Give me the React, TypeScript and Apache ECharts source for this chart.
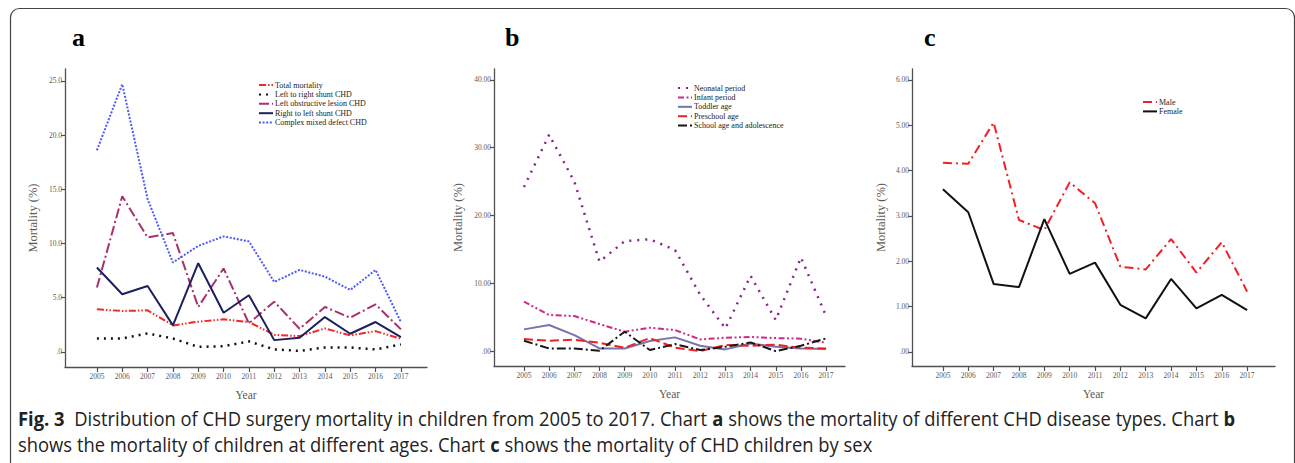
import React, { useEffect, useRef } from "react";
import * as echarts from "echarts";

const years = [2005, 2006, 2007, 2008, 2009, 2010, 2011, 2012, 2013, 2014, 2015, 2016, 2017];

// Panel a: CHD disease types
const totalMortality = [3.92, 3.77, 3.83, 2.44, 2.78, 3.0, 2.75, 1.57, 1.45, 2.16, 1.51, 1.91, 1.2];
const leftToRightShunt = [1.23, 1.23, 1.7, 1.23, 0.46, 0.52, 0.96, 0.22, 0.09, 0.4, 0.4, 0.22, 0.68];
const leftObstructive = [5.93, 14.35, 10.56, 10.96, 4.14, 7.69, 2.62, 4.63, 2.13, 4.14, 3.15, 4.38, 2.07];
const rightToLeftShunt = [7.78, 5.31, 6.08, 2.44, 8.18, 3.61, 5.22, 1.08, 1.3, 3.21, 1.67, 2.75, 1.36];
const complexMixed = [18.6, 24.7, 14.1, 8.24, 9.78, 10.65, 10.19, 6.45, 7.56, 6.94, 5.71, 7.56, 2.75];

// Panel b: ages
const neonatal = [24.2, 31.9, 25.0, 13.2, 16.2, 16.5, 14.9, 8.3, 3.35, 11.1, 4.58, 13.8, 5.17];
const infant = [7.29, 5.32, 5.17, 3.99, 2.86, 3.45, 3.1, 1.72, 1.97, 2.07, 1.92, 1.82, 1.23];
const toddler = [3.2, 3.84, 2.36, 0.39, 0.39, 1.48, 2.02, 0.79, 0.25, 1.13, 0.64, 0.39, 0.3];
const preschool = [1.77, 1.53, 1.67, 1.23, 0.49, 1.92, 0.49, 0.0, 0.89, 0.79, 0.94, 0.49, 0.39];
const schoolAge = [1.53, 0.39, 0.39, 0.05, 2.86, 0.15, 1.03, 0.15, 0.64, 1.28, 0.0, 0.79, 1.87];

// Panel c: sex
const male = [4.17, 4.15, 5.06, 2.91, 2.69, 3.74, 3.28, 1.88, 1.82, 2.49, 1.75, 2.42, 1.33];
const female = [3.59, 3.08, 1.5, 1.43, 2.93, 1.72, 1.97, 1.04, 0.74, 1.61, 0.96, 1.26, 0.92];

const ticksA = [0, 5, 10, 15, 20, 25];
const ticksB = [0, 10, 20, 30, 40];
const ticksC = [0, 1, 2, 3, 4, 5, 6];

const namesA = ["Total mortality", "Left to right shunt CHD", "Left obstructive lesion CHD", "Right to left shunt CHD", "Complex mixed defect CHD"];
const namesB = ["Neonatal period", "Infant period", "Toddler age", "Preschool age", "School age and adolescence"];
const namesC = ["Male", "Female"];

const serif = "'Liberation Serif', 'DejaVu Serif', serif";
const gray = "#5a5a5a";
const axisColor = "#505050";

function pts(arr: number[]) {
  return years.map((y, i) => [y, arr[i]]);
}

function xAxisCfg(gridIndex: number, min: number, max: number) {
  return {
    type: "value",
    gridIndex,
    min,
    max,
    name: "Year",
    nameLocation: "middle",
    nameGap: 22,
    nameTextStyle: { fontFamily: serif, fontSize: 11.5, color: gray },
    axisLine: { show: true, onZero: false, lineStyle: { color: axisColor, width: 1.3 } },
    axisTick: { show: true, customValues: years, length: 5, lineStyle: { color: axisColor, width: 1.2 } },
    axisLabel: { customValues: years, fontFamily: serif, fontSize: 7.5, color: gray, margin: 5, formatter: (v: number) => String(v) },
    splitLine: { show: false },
  };
}

function yAxisCfg(gridIndex: number, min: number, max: number, ticks: number[], dec: number, nameGap: number) {
  return {
    type: "value",
    gridIndex,
    min,
    max,
    name: "Mortality (%)",
    nameLocation: "middle",
    nameRotate: 90,
    nameGap,
    nameTextStyle: { fontFamily: serif, fontSize: 12.5, color: gray },
    axisLine: { show: true, onZero: false, lineStyle: { color: axisColor, width: 1.3 } },
    axisTick: { show: true, customValues: ticks, length: 4, lineStyle: { color: axisColor, width: 1.2 } },
    axisLabel: {
      customValues: ticks,
      fontFamily: serif,
      fontSize: 7.5,
      color: gray,
      margin: 3,
      formatter: (v: number) => (v === 0 ? (dec === 1 ? ".0" : ".00") : v.toFixed(dec)),
    },
    splitLine: { show: false },
  };
}

function line(name: string, data: number[], idx: number, color: string, type: any, width: number) {
  return {
    type: "line",
    name,
    xAxisIndex: idx,
    yAxisIndex: idx,
    data: pts(data),
    showSymbol: false,
    symbol: "none",
    lineStyle: { color, type, width },
    itemStyle: { color },
  };
}

function legendCfg(names: string[], left: number, top: number) {
  return {
    data: names,
    orient: "vertical",
    left,
    top,
    itemWidth: 14,
    itemHeight: 6,
    itemGap: 1.4,
    padding: 0,
    itemStyle: { opacity: 0 },
    textStyle: { fontFamily: serif, fontSize: 8, color: "#222", padding: [0, 0, 0, -3] },
  };
}

export default function App() {
  const ref = useRef<HTMLDivElement>(null);
  useEffect(() => {
    document.body.style.margin = "0";
    const chart = echarts.init(ref.current!, undefined, { renderer: "svg" });
    const capFont = "20px 'Open Sans', sans-serif";
    const capRich = { b: { fontWeight: "bold", fontSize: 20, fontFamily: "'Open Sans', sans-serif", fill: "#222" } };
    const option: any = {
      animation: false,
      backgroundColor: "#fff",
      grid: [
        { left: 65, right: 868, top: 69, bottom: 96 },
        { left: 494, right: 450, top: 69, bottom: 97 },
        { left: 912, right: 20, top: 69, bottom: 97 },
      ],
      xAxis: [
        xAxisCfg(0, 2003.74, 2018.03),
        xAxisCfg(1, 2003.81, 2017.75),
        xAxisCfg(2, 2003.78, 2018.1),
      ],
      yAxis: [
        yAxisCfg(0, -1.4, 26.1, ticksA, 1, 26),
        yAxisCfg(1, -2.2, 41.6, ticksB, 2, 30),
        yAxisCfg(2, -0.31, 6.24, ticksC, 2, 25),
      ],
      legend: [
        legendCfg(namesA, 258, 81),
        legendCfg(namesB, 677, 84),
        legendCfg(namesC, 1142, 98),
      ],
      series: [
        line(namesA[0], totalMortality, 0, "#f02828", [7, 2, 1.5, 2, 1.5, 2], 2),
        line(namesA[1], leftToRightShunt, 0, "#111111", [2, 5], 2.5),
        line(namesA[2], leftObstructive, 0, "#a8306e", [10, 3, 2, 3], 2),
        line(namesA[3], rightToLeftShunt, 0, "#1c1f60", "solid", 2),
        line(namesA[4], complexMixed, 0, "#4e5cf5", [2, 1.6], 2),
        line(namesB[0], neonatal, 1, "#8a2090", [2, 6], 2.5),
        line(namesB[1], infant, 1, "#cc2a88", [6, 2.5, 2, 2.5, 2, 2.5], 2),
        line(namesB[2], toddler, 1, "#7474ae", "solid", 2),
        line(namesB[3], preschool, 1, "#f02020", [9, 4], 2),
        line(namesB[4], schoolAge, 1, "#161616", [9, 3, 2, 3], 2),
        line(namesC[0], male, 2, "#f02026", [9, 4, 2, 4], 2),
        line(namesC[1], female, 2, "#111111", "solid", 2),
      ],
      graphic: [
        {
          type: "rect",
          shape: { x: 10.5, y: 8.5, width: 1284, height: 480, r: 9 },
          style: { fill: "none", stroke: "#444", lineWidth: 1.2 },
          silent: true,
        },
        { type: "text", x: 72, y: 24, style: { text: "a", font: "bold 26px 'Liberation Serif', serif", fill: "#000" } },
        { type: "text", x: 505, y: 24, style: { text: "b", font: "bold 26px 'Liberation Serif', serif", fill: "#000" } },
        { type: "text", x: 924, y: 24, style: { text: "c", font: "bold 26px 'Liberation Serif', serif", fill: "#000" } },
        {
          type: "text",
          x: 18,
          y: 418,
          scaleX: 0.92,
          style: {
            text:
              "{b|Fig. 3}  Distribution of CHD surgery mortality in children from 2005 to 2017. Chart {b|a} shows the mortality of different CHD disease types. Chart {b|b}",
            font: capFont,
            fill: "#222",
            verticalAlign: "middle",
            rich: capRich,
          },
        },
        {
          type: "text",
          x: 18,
          y: 444,
          scaleX: 0.92,
          style: {
            text: "shows the mortality of children at different ages. Chart {b|c} shows the mortality of CHD children by sex",
            font: capFont,
            fill: "#222",
            verticalAlign: "middle",
            rich: capRich,
          },
        },
      ],
    };
    chart.setOption(option);
    return () => chart.dispose();
  }, []);
  return <div ref={ref} style={{ width: 1295, height: 463 }} />;
}
